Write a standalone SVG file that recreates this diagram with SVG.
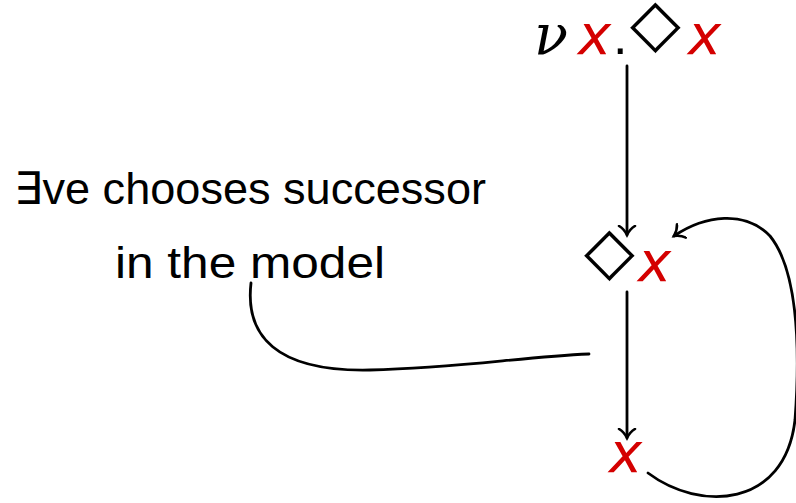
<svg xmlns="http://www.w3.org/2000/svg" width="796" height="503" viewBox="0 0 796 503">
<style>
.t{font-family:"Liberation Sans","DejaVu Sans",sans-serif;font-size:45px;fill:#000}
.v{font-family:"DejaVu Sans",sans-serif;font-size:56px;fill:#d40000;font-style:italic}
.nu{font-family:"DejaVu Serif",serif;font-size:56px;font-style:italic;fill:#000}
.dm{font-family:"DejaVu Sans",sans-serif;font-size:66px;fill:#000}
.dot{font-family:"Liberation Sans",sans-serif;font-size:52px;fill:#000}
.c{fill:none;stroke:#000;stroke-width:2.8;stroke-linecap:round}
</style>
<defs>
<marker id="ah" markerUnits="userSpaceOnUse" markerWidth="20" markerHeight="20" viewBox="-10 -10 20 20" refX="0" refY="0" orient="auto">
<path d="M -9 -8 C -6 -3, -2 -1, 0 0 C -2 1, -6 3, -9 8" fill="none" stroke="#000" stroke-width="2.6" stroke-linecap="round"/>
</marker>
</defs>
<g id="node-top">
<text class="nu" x="534" y="54">ν</text>
<text class="v" x="578" y="54">x</text>
<text class="dot" x="613" y="54">.</text>
<text class="dm" x="630" y="45">◇</text>
<text class="v" x="688" y="54">x</text>
</g>
<g id="node-mid">
<text class="dm" x="584" y="273">◇</text>
<text class="v" x="638" y="281">x</text>
</g>
<g id="node-bot">
<text class="v" x="609" y="472">x</text>
</g>
<g id="annotation">
<text class="t" x="14" y="204" textLength="472" lengthAdjust="spacingAndGlyphs">∃ve chooses successor</text>
<text class="t" x="115" y="278" textLength="270" lengthAdjust="spacingAndGlyphs">in the model</text>
</g>
<g id="connectors">
<path class="c" d="M 627 66 L 627 235" marker-end="url(#ah)"/>
<path class="c" d="M 627 292 L 627 438" marker-end="url(#ah)"/>
<path class="c" d="M 648 473 C 700 512, 785 508, 795 420 C 801 340, 796 268, 770 236 C 745 210, 705 215, 674 236" marker-end="url(#ah)"/>
<path class="c" d="M 251 283 C 245 335, 275 372, 370 370 C 460 368, 520 357, 589 354"/>
</g>
</svg>
